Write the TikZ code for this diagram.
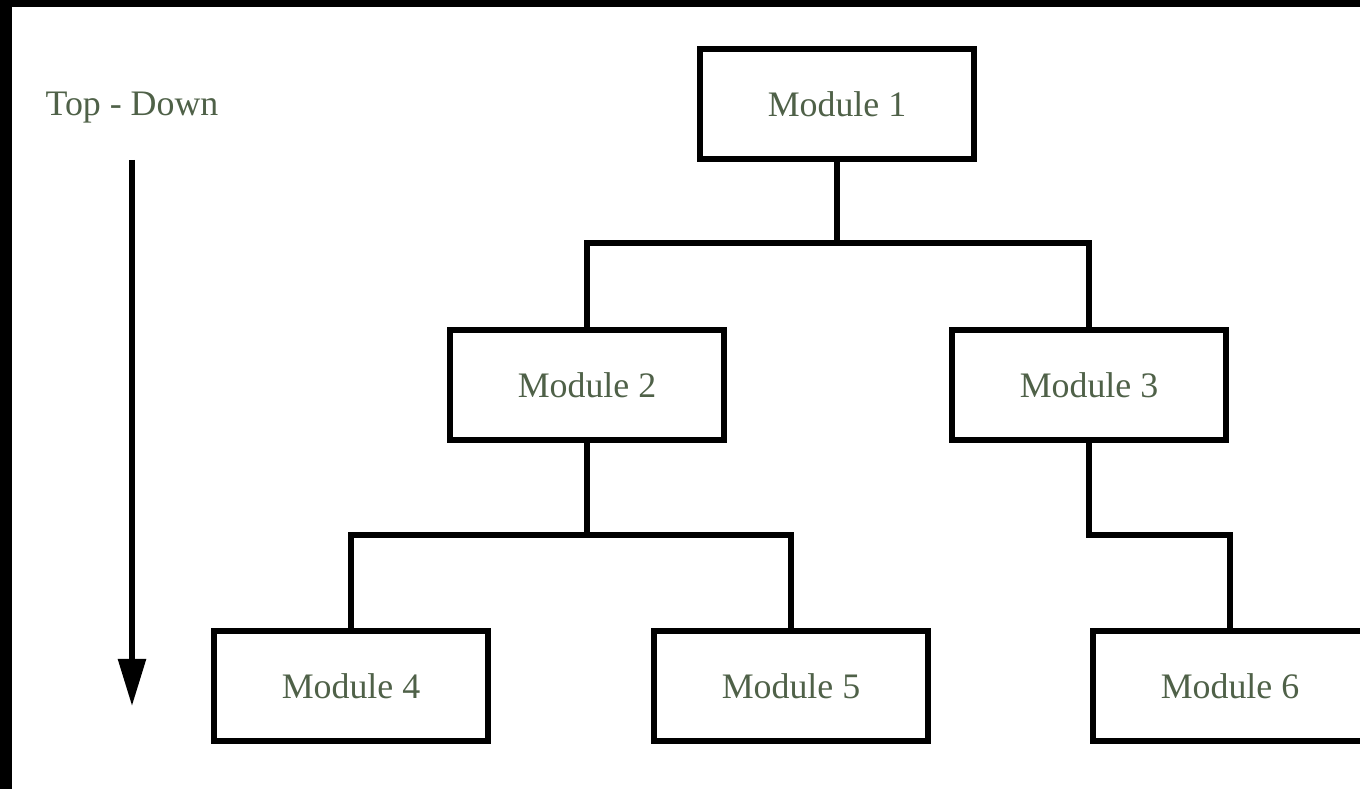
\documentclass[tikz,border=0pt]{standalone}
\usepackage{fontspec}
\setmainfont{Liberation Serif}
\usepackage{tikz}
\usetikzlibrary{arrows.meta}
\definecolor{modtext}{HTML}{4F6148}

\begin{document}
\begin{tikzpicture}[x=0.01cm, y=-0.01cm, font=\fontsize{10.2}{12}\selectfont,
  module/.style={draw, line width=1.6pt, minimum width=2.74cm, minimum height=1.10cm, text=modtext},
  link/.style={line width=1.6pt}]
\useasboundingbox (0,0) rectangle (1360,789);
\fill[black] (0,0) rectangle (1360,7);
\fill[black] (0,0) rectangle (12,789);

% the modules, level by level
\node[module] (m1) at (837,104) {Module 1};
\node[module] (m2) at (587,385) {Module 2};
\node[module] (m3) at (1089,385) {Module 3};
\node[module] (m4) at (351,686) {Module 4};
\node[module] (m5) at (791,686) {Module 5};
\node[module] (m6) at (1230,686) {Module 6};

% junctions on the horizontal bars
\coordinate (j1) at (837,243);
\coordinate (j2) at (587,535);
\coordinate (j3) at (1160,535);

\draw[link] (m1.south) -- (j1);
\draw[link] (m2.north) |- (j1) -| (m3.north);
\draw[link] (m2.south) -- (j2);
\draw[link] (m4.north) |- (j2) -| (m5.north);
\draw[link] (m3.south) |- (j3) -| (m6.north);

% direction of the design
\node[text=modtext] (dir) at (132,108) {Top - Down};
\coordinate (tip) at (132,706);
\draw[link, -{Triangle[length=0.47cm, width=0.27cm]}, shorten <=0.24cm] (dir.south) -- (tip);
\end{tikzpicture}
\end{document}
